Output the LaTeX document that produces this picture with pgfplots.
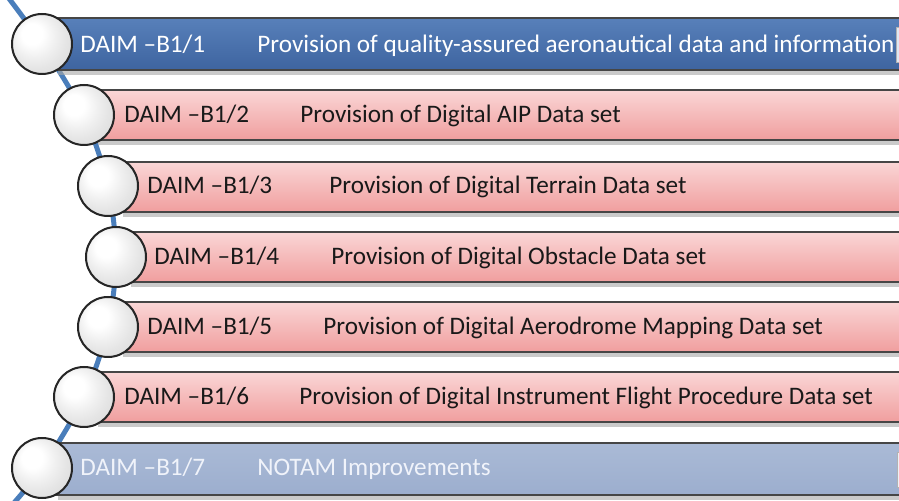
\documentclass[border=0pt]{standalone}
\usepackage{pgfplots}
\pgfplotsset{compat=1.18}
\usepackage{fontspec}
\setmainfont{Carlito}
\definecolor{linecol}{RGB}{74,126,187}
\definecolor{blueTop}{RGB}{88,128,186}
\definecolor{blueBot}{RGB}{62,100,160}
\definecolor{pinkTop}{RGB}{250,214,214}
\definecolor{pinkBot}{RGB}{240,158,158}
\definecolor{greyTop}{RGB}{170,186,214}
\definecolor{greyBot}{RGB}{156,174,206}
\definecolor{edge}{RGB}{70,70,70}
\tikzset{lbl/.style={anchor=base west, inner sep=0pt, font=\fontsize{12.6}{14}\selectfont}}
\begin{document}
\begin{tikzpicture}
\begin{axis}[width=449.5pt,height=250.5pt,scale only axis,
  xmin=0,xmax=899,ymin=0,ymax=501,y dir=reverse,hide axis,clip=true]
% connecting curve
\addplot[smooth, draw=linecol, line width=2.5pt] coordinates {(4,-8)(42,44)(84,115)(108,186)(116,257)(108,327)(84,397)(42,468)(6,512)};
% shadows
\addplot[fill=black!35, draw=none, opacity=0.6] coordinates {(58,22)(910,22)(910,75)(58,75)} -- cycle;
\addplot[fill=black!35, draw=none, opacity=0.6] coordinates {(98,94)(910,94)(910,145)(98,145)} -- cycle;
\addplot[fill=black!35, draw=none, opacity=0.6] coordinates {(123,166)(910,166)(910,217)(123,217)} -- cycle;
\addplot[fill=black!35, draw=none, opacity=0.6] coordinates {(131,236)(910,236)(910,287)(131,287)} -- cycle;
\addplot[fill=black!35, draw=none, opacity=0.6] coordinates {(123,306)(910,306)(910,357)(123,357)} -- cycle;
\addplot[fill=black!35, draw=none, opacity=0.6] coordinates {(98,376)(910,376)(910,427)(98,427)} -- cycle;
\addplot[fill=black!35, draw=none, opacity=0.6] coordinates {(58,447)(910,447)(910,500)(58,500)} -- cycle;
% bars
\addplot[top color=blueTop, bottom color=blueBot, draw=edge, line width=0.9pt] coordinates {(55,18)(905,18)(905,70)(55,70)} -- cycle;
\addplot[top color=pinkTop, bottom color=pinkBot, draw=edge, line width=0.9pt] coordinates {(95,90)(905,90)(905,140)(95,140)} -- cycle;
\addplot[top color=pinkTop, bottom color=pinkBot, draw=edge, line width=0.9pt] coordinates {(120,162)(905,162)(905,212)(120,212)} -- cycle;
\addplot[top color=pinkTop, bottom color=pinkBot, draw=edge, line width=0.9pt] coordinates {(128,232)(905,232)(905,282)(128,282)} -- cycle;
\addplot[top color=pinkTop, bottom color=pinkBot, draw=edge, line width=0.9pt] coordinates {(120,302)(905,302)(905,352)(120,352)} -- cycle;
\addplot[top color=pinkTop, bottom color=pinkBot, draw=edge, line width=0.9pt] coordinates {(95,372)(905,372)(905,422)(95,422)} -- cycle;
\addplot[top color=greyTop, bottom color=greyBot, draw=edge, line width=0.9pt] coordinates {(55,443)(905,443)(905,495)(55,495)} -- cycle;
% small end caps
\addplot[fill={rgb,255:red,222;green,231;blue,243}, draw=black!30, line width=0.4pt] coordinates {(896,27)(905,27)(905,62)(896,62)} -- cycle;
\addplot[fill={rgb,255:red,236;green,240;blue,247}, draw=black!30, line width=0.4pt] coordinates {(897,452)(905,452)(905,487)(897,487)} -- cycle;
% circles
\addplot[only marks, mark=*, mark size=15pt, mark options={fill=white, draw=none}] coordinates {(42,44)(84,115)(108,186)(116,257)(108,327)(84,397)(42,468)};
\addplot[only marks, mark=ball, mark size=15pt, mark options={ball color=white, opacity=0.2}] coordinates {(42,44)(84,115)(108,186)(116,257)(108,327)(84,397)(42,468)};
\addplot[only marks, mark=o, mark size=15pt, mark options={draw=black!85, line width=1pt}] coordinates {(42,44)(84,115)(108,186)(116,257)(108,327)(84,397)(42,468)};
% texts
\node[lbl, text=white] at (axis cs:80,53) {DAIM –B1/1};
\node[lbl, text=white] at (axis cs:257,53) {Provision of quality-assured aeronautical data and information};
\node[lbl, text=black!90] at (axis cs:124,123) {DAIM –B1/2};
\node[lbl, text=black!90] at (axis cs:300,123) {Provision of Digital AIP Data set};
\node[lbl, text=black!90] at (axis cs:147,194) {DAIM –B1/3};
\node[lbl, text=black!90] at (axis cs:329,194) {Provision of Digital Terrain Data set};
\node[lbl, text=black!90] at (axis cs:154,265) {DAIM –B1/4};
\node[lbl, text=black!90] at (axis cs:331,265) {Provision of Digital Obstacle Data set};
\node[lbl, text=black!90] at (axis cs:147,335) {DAIM –B1/5};
\node[lbl, text=black!90] at (axis cs:323,335) {Provision of Digital Aerodrome Mapping Data set};
\node[lbl, text=black!90] at (axis cs:124,405) {DAIM –B1/6};
\node[lbl, text=black!90] at (axis cs:299,405) {Provision of Digital Instrument Flight Procedure Data set};
\node[lbl, text={rgb,255:red,240;green,243;blue,250}] at (axis cs:80,476) {DAIM –B1/7};
\node[lbl, text={rgb,255:red,240;green,243;blue,250}] at (axis cs:257,476) {NOTAM Improvements};
\end{axis}
\pgfresetboundingbox
\path (current axis.south west) rectangle (current axis.north east);
\end{tikzpicture}
\end{document}
